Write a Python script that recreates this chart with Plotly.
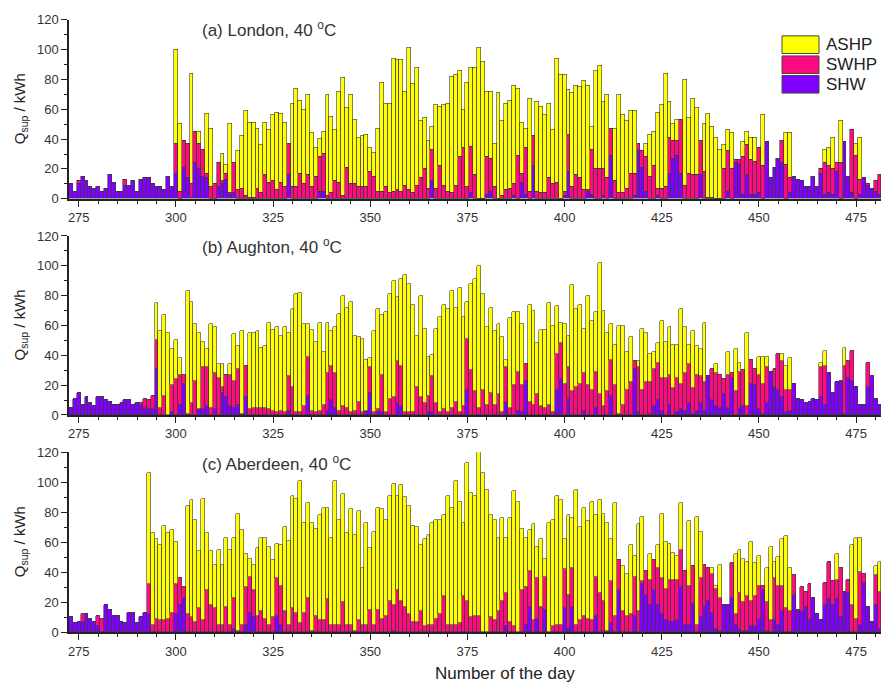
import plotly.graph_objects as go

days = list(range(273, 482))

# ---------------- (a) London ----------------
london_shw = [
    10, 5, 10, 15, 12, 8, 7, 8, 5, 7,
    16, 11, 5, 5, 9, 9, 12, 5, 12, 14,
    14, 10, 8, 8, 6, 15, 8, 17, 0, 21,
    14, 1, 24, 20, 15, 14, 0, 0, 8, 10,
    13, 3, 4, 0, 0, 0, 0, 0, 0, 0,
    0, 0, 0, 0, 0, 0, 16, 0, 0, 0,
    0, 0, 0, 0, 5, 5, 0, 0, 0, 0,
    0, 0, 0, 0, 0, 0, 0, 0, 0, 0,
    0, 0, 0, 0, 0, 0, 0, 0, 0, 0,
    0, 0, 0, 12, 0, 0, 0, 0, 0, 0,
    0, 0, 0, 4, 0, 0, 0, 3, 5, 0,
    0, 0, 0, 0, 2, 0, 11, 3, 0, 22,
    0, 0, 0, 0, 0, 0, 0, 2, 18, 0,
    0, 0, 0, 5, 3, 0, 0, 2, 0, 29,
    0, 0, 0, 0, 0, 2, 32, 21, 5, 0,
    0, 2, 0, 0, 17, 27, 29, 17, 0, 0,
    0, 0, 16, 0, 0, 0, 0, 0, 0, 5,
    0, 24, 23, 3, 16, 3, 3, 4, 0, 38,
    14, 21, 27, 24, 0, 4, 15, 13, 12, 8,
    8, 15, 8, 17, 3, 4, 3, 18, 0, 38,
    15, 4, 0, 3, 14, 9, 7, 5, 3,
]
london_swhp = [
    0, 0, 2, 0, 0, 0, 0, 0, 0, 0,
    0, 0, 0, 0, 4, 0, 0, 0, 1, 0,
    0, 0, 0, 0, 0, 0, 0, 20, 5, 18,
    23, 9, 21, 17, 18, 3, 8, 10, 16, 2,
    4, 1, 20, 6, 7, 2, 1, 1, 7, 4,
    16, 11, 12, 6, 11, 8, 21, 8, 8, 17,
    10, 16, 8, 15, 23, 25, 2, 4, 12, 11,
    2, 21, 10, 10, 8, 8, 8, 18, 15, 5,
    5, 8, 4, 5, 6, 5, 9, 6, 4, 9,
    14, 20, 7, 21, 7, 22, 9, 5, 4, 9,
    28, 34, 8, 31, 16, 0, 0, 25, 22, 8,
    0, 2, 6, 7, 8, 29, 6, 31, 5, 20,
    5, 4, 4, 14, 10, 11, 0, 3, 25, 8,
    16, 14, 6, 1, 30, 20, 20, 18, 14, 18,
    12, 4, 4, 7, 17, 15, 5, 11, 23, 15,
    22, 5, 7, 8, 24, 12, 10, 36, 9, 17,
    16, 16, 23, 18, 1, 1, 0, 0, 20, 27,
    20, 2, 3, 25, 20, 23, 22, 30, 22, 0,
    0, 0, 0, 15, 23, 10, 0, 0, 0, 0,
    0, 0, 0, 3, 21, 18, 17, 6, 24, 0,
    0, 42, 29, 10, 0, 1, 0, 7, 13,
]
london_ashp = [
    0, 0, 0, 0, 0, 0, 0, 0, 0, 0,
    0, 0, 0, 0, 0, 0, 0, 0, 0, 0,
    0, 0, 0, 0, 0, 0, 0, 63, 45, 0,
    0, 74, 0, 8, 0, 40, 39, 0, 0, 18,
    6, 46, 0, 26, 35, 57, 50, 50, 40, 32,
    35, 35, 44, 52, 46, 43, 0, 56, 66, 49,
    50, 54, 36, 19, 12, 15, 68, 51, 34, 61,
    79, 40, 60, 43, 33, 34, 35, 16, 16, 42,
    73, 56, 60, 89, 87, 88, 63, 95, 73, 79,
    38, 34, 32, 15, 56, 40, 54, 59, 78, 74,
    58, 26, 70, 53, 72, 101, 92, 44, 45, 29,
    71, 50, 58, 59, 66, 45, 34, 13, 62, 0,
    60, 58, 52, 50, 36, 83, 83, 78, 30, 63,
    60, 61, 73, 70, 15, 66, 69, 45, 56, 0,
    35, 66, 52, 45, 42, 42, 0, 0, 9, 28,
    23, 51, 56, 76, 24, 11, 14, 0, 71, 37,
    51, 45, 0, 32, 56, 47, 41, 33, 16, 14,
    24, 0, 0, 10, 9, 15, 16, 0, 34, 0,
    0, 0, 0, 0, 21, 30, 0, 0, 0, 0,
    0, 0, 0, 0, 9, 12, 21, 0, 28, 0,
    0, 0, 8, 28, 0, 0, 0, 0, 0,
]

# ---------------- (b) Aughton ----------------
aughton_shw = [
    5, 11, 15, 7, 12, 8, 6, 12, 12, 10,
    9, 7, 7, 8, 10, 10, 7, 8, 7, 5,
    4, 4, 31, 0, 0, 0, 2, 0, 7, 21,
    0, 0, 0, 4, 4, 6, 0, 4, 0, 15,
    12, 6, 5, 7, 0, 12, 0, 0, 0, 0,
    0, 0, 0, 0, 0, 0, 3, 0, 0, 0,
    0, 13, 0, 0, 0, 0, 3, 10, 5, 0,
    0, 0, 0, 0, 0, 0, 3, 15, 0, 2,
    2, 0, 0, 0, 8, 6, 0, 0, 0, 0,
    0, 0, 2, 2, 0, 0, 0, 0, 0, 0,
    0, 0, 17, 0, 0, 0, 0, 0, 0, 0,
    0, 0, 9, 0, 0, 3, 2, 23, 0, 0,
    0, 0, 0, 0, 0, 17, 24, 0, 11, 0,
    0, 0, 3, 0, 0, 5, 0, 0, 0, 13,
    0, 0, 0, 0, 0, 31, 2, 0, 0, 1,
    6, 10, 3, 0, 7, 0, 2, 4, 3, 8,
    1, 3, 8, 3, 26, 10, 6, 5, 14, 5,
    25, 0, 5, 6, 0, 21, 20, 4, 1, 8,
    29, 19, 17, 12, 2, 3, 21, 11, 10, 8,
    9, 11, 10, 12, 7, 28, 15, 22, 22, 1,
    25, 23, 19, 7, 7, 19, 26, 11, 7,
]
aughton_swhp = [
    0, 0, 0, 0, 0, 0, 0, 0, 0, 0,
    0, 0, 0, 0, 0, 0, 0, 0, 1, 6,
    6, 9, 19, 5, 13, 0, 18, 24, 20, 6,
    1, 8, 23, 0, 28, 26, 5, 24, 25, 4,
    15, 21, 18, 24, 1, 21, 4, 5, 5, 5,
    5, 4, 3, 2, 3, 2, 23, 19, 2, 2,
    6, 26, 3, 2, 3, 7, 25, 23, 23, 3,
    6, 5, 2, 3, 9, 2, 0, 17, 2, 2,
    25, 2, 11, 12, 28, 27, 2, 2, 2, 19,
    12, 8, 11, 24, 8, 2, 4, 2, 5, 9,
    2, 6, 34, 30, 16, 5, 17, 7, 15, 7,
    14, 2, 23, 5, 20, 26, 18, 11, 9, 7,
    14, 6, 5, 7, 2, 24, 24, 21, 21, 16,
    19, 21, 25, 20, 17, 24, 14, 6, 16, 24,
    20, 1, 7, 17, 22, 5, 30, 17, 22, 21,
    25, 25, 22, 25, 20, 18, 23, 17, 25, 26,
    17, 24, 18, 19, 0, 21, 22, 22, 10, 22,
    3, 16, 24, 24, 6, 16, 11, 23, 20, 24,
    0, 12, 24, 24, 15, 14, 0, 0, 0, 0,
    0, 0, 0, 20, 26, 0, 0, 0, 1, 32,
    11, 20, 0, 0, 0, 16, 0, 0, 0,
]
aughton_ashp = [
    0, 0, 0, 0, 0, 0, 0, 0, 0, 0,
    0, 0, 0, 0, 0, 0, 0, 0, 0, 0,
    0, 0, 25, 51, 54, 55, 24, 26, 11, 0,
    82, 68, 38, 51, 17, 12, 56, 31, 9, 15,
    0, 7, 31, 15, 55, 0, 51, 50, 51, 40,
    41, 58, 54, 57, 50, 57, 29, 52, 79, 80,
    55, 22, 54, 47, 59, 35, 34, 23, 31, 65,
    74, 67, 74, 50, 43, 49, 34, 6, 54, 67,
    40, 67, 70, 78, 43, 58, 92, 86, 72, 34,
    68, 50, 26, 14, 50, 64, 70, 69, 78, 63,
    83, 60, 25, 58, 75, 95, 64, 52, 57, 49,
    47, 50, 5, 60, 49, 40, 41, 0, 65, 63,
    34, 51, 52, 68, 58, 32, 14, 40, 21, 71,
    52, 53, 30, 60, 46, 40, 88, 64, 39, 24,
    27, 59, 53, 25, 30, 0, 4, 41, 33, 19,
    11, 13, 38, 24, 32, 29, 22, 50, 31, 13,
    38, 19, 18, 40, 0, 0, 6, 0, 0, 15,
    0, 28, 6, 0, 49, 0, 0, 12, 18, 7,
    0, 0, 0, 5, 16, 21, 0, 0, 0, 0,
    0, 0, 0, 3, 10, 0, 0, 0, 0, 12,
    0, 0, 0, 0, 0, 0, 0, 0, 0,
]

# ---------------- (c) Aberdeen ----------------
aberdeen_shw = [
    10, 6, 7, 7, 12, 9, 7, 4, 0, 18,
    15, 11, 11, 7, 6, 13, 13, 6, 10, 13,
    12, 0, 0, 0, 0, 0, 0, 12, 18, 23,
    0, 0, 0, 0, 0, 0, 0, 0, 0, 0,
    0, 0, 2, 0, 0, 5, 13, 10, 0, 0,
    0, 0, 0, 11, 5, 0, 0, 0, 0, 0,
    0, 0, 0, 0, 0, 0, 0, 0, 0, 0,
    0, 0, 0, 0, 0, 0, 0, 0, 0, 0,
    0, 0, 0, 1, 0, 0, 0, 0, 0, 0,
    0, 0, 0, 0, 0, 0, 0, 0, 0, 0,
    0, 0, 0, 0, 0, 0, 0, 0, 0, 0,
    0, 0, 4, 0, 0, 0, 0, 5, 17, 0,
    9, 0, 15, 0, 0, 0, 0, 16, 3, 17,
    0, 0, 0, 0, 0, 11, 0, 0, 0, 6,
    0, 28, 0, 0, 0, 11, 0, 32, 25, 18,
    28, 18, 12, 8, 7, 7, 8, 30, 5, 5,
    19, 0, 10, 17, 21, 13, 2, 1, 18, 18,
    23, 5, 2, 1, 1, 4, 4, 8, 28, 1,
    0, 8, 5, 14, 0, 0, 25, 14, 14, 17,
    8, 23, 12, 8, 18, 22, 18, 22, 10, 27,
    26, 0, 0, 5, 33, 17, 7, 18, 2,
]
aberdeen_swhp = [
    0, 0, 0, 5, 0, 0, 0, 7, 9, 0,
    0, 0, 0, 0, 0, 0, 0, 0, 0, 0,
    20, 5, 9, 8, 8, 9, 13, 20, 18, 7,
    12, 10, 7, 16, 8, 28, 18, 16, 5, 5,
    17, 5, 21, 1, 5, 25, 24, 18, 11, 14,
    9, 5, 10, 25, 26, 14, 5, 16, 13, 6,
    13, 23, 1, 11, 8, 8, 22, 5, 5, 5,
    20, 5, 5, 1, 8, 5, 5, 15, 5, 15,
    9, 11, 21, 17, 28, 21, 17, 12, 7, 7,
    14, 4, 5, 5, 9, 12, 24, 5, 5, 5,
    6, 24, 21, 10, 11, 11, 0, 0, 10, 8,
    14, 21, 22, 7, 4, 0, 28, 25, 24, 8,
    27, 17, 22, 0, 4, 5, 5, 26, 22, 26,
    5, 8, 11, 9, 8, 26, 26, 21, 1, 28,
    11, 20, 14, 11, 12, 26, 14, 2, 16, 17,
    20, 25, 24, 21, 28, 28, 27, 25, 36, 26,
    25, 5, 26, 28, 22, 26, 27, 22, 0, 0,
    23, 7, 24, 19, 23, 17, 20, 23, 3, 19,
    8, 28, 26, 17, 16, 14, 13, 1, 16, 10,
    24, 0, 0, 0, 15, 25, 16, 13, 33, 0,
    9, 18, 9, 35, 6, 0, 0, 20, 25,
]
aberdeen_ashp = [
    0, 0, 0, 0, 0, 0, 0, 0, 0, 0,
    0, 0, 0, 0, 0, 0, 0, 0, 0, 0,
    74, 61, 53, 50, 63, 57, 55, 28, 0, 0,
    72, 78, 68, 38, 81, 38, 36, 29, 50, 40,
    46, 50, 40, 78, 63, 22, 12, 17, 45, 49,
    54, 52, 38, 23, 27, 56, 56, 75, 76, 95,
    60, 63, 72, 58, 70, 75, 61, 58, 96, 70,
    72, 61, 77, 64, 73, 38, 68, 41, 62, 68,
    73, 64, 70, 81, 63, 77, 73, 72, 64, 63,
    44, 58, 60, 68, 66, 63, 54, 86, 78, 96,
    81, 49, 92, 83, 80, 109, 106, 95, 68, 67,
    49, 55, 37, 69, 90, 87, 41, 33, 27, 64,
    21, 45, 12, 73, 71, 86, 83, 20, 53, 33,
    90, 62, 72, 65, 79, 41, 62, 58, 72, 28,
    75, 0, 30, 28, 46, 14, 58, 43, 0, 17,
    0, 15, 43, 31, 24, 18, 16, 31, 0, 43,
    0, 72, 31, 0, 0, 4, 2, 22, 0, 0,
    0, 40, 29, 29, 23, 39, 22, 20, 0, 23,
    49, 11, 19, 31, 48, 29, 0, 0, 0, 0,
    0, 0, 0, 0, 0, 0, 0, 17, 0, 0,
    0, 40, 54, 23, 0, 0, 0, 6, 20,
]

panel_titles = ["(a) London, 40 <sup>o</sup>C",
                "(b) Aughton, 40 <sup>o</sup>C",
                "(c) Aberdeen, 40 <sup>o</sup>C"]
series_names = ["SHW", "SWHP", "ASHP"]
legend_order = ["ASHP", "SWHP", "SHW"]
y_ticks = [0, 20, 40, 60, 80, 100, 120]
x_ticks = [275, 300, 325, 350, 375, 400, 425, 450, 475]

panels = [
    (london_shw, london_swhp, london_ashp),
    (aughton_shw, aughton_swhp, aughton_ashp),
    (aberdeen_shw, aberdeen_swhp, aberdeen_ashp),
]
for p in panels:
    for s in p:
        if len(s) != len(days):
            raise ValueError(f"length mismatch {len(s)} vs {len(days)}")

colors = {"SHW": "#8000FF", "SWHP": "#FF0A80", "ASHP": "#FFFF00"}
FONT = "Arial, Liberation Sans, sans-serif"

W, H = 881, 695
L = 69
PW = W - L

def px_x(px):
    return (px - L) / PW

def px_y(py):
    return (H - py) / H

fig = go.Figure()
for i, series in enumerate(panels):
    sfx = "" if i == 0 else str(i + 1)
    for name, vals in zip(series_names, series):
        fig.add_trace(go.Bar(
            x=days, y=vals, name=name,
            xaxis="x" + sfx, yaxis="y" + sfx,
            width=1,
            marker=dict(color=colors[name], line=dict(color="#3a3a3a", width=0.6)),
            showlegend=False,
        ))

# panel pixel extents (top = 120, bottom = 0)
panel_px = [(13, 196), (234, 417), (455, 639)]

layout = dict(
    width=W, height=H,
    margin=dict(l=L, r=0, t=0, b=0),
    barmode="stack", bargap=0,
    paper_bgcolor="white", plot_bgcolor="white",
    font=dict(family=FONT, color="#333333"),
    showlegend=False,
)
for i, (top, bot) in enumerate(panel_px):
    sfx = "" if i == 0 else str(i + 1)
    layout["xaxis" + sfx] = dict(
        domain=[0, 1], range=[272.5, 481.4], anchor="y" + sfx,
        tickvals=x_ticks, ticks="outside", ticklen=6, tickwidth=1.2,
        tickcolor="#222222", showline=True, linecolor="#222222", linewidth=1.5,
        showgrid=False, zeroline=False,
        minor=dict(dtick=5, tick0=275, ticks="outside", ticklen=3,
                   tickcolor="#222222", tickwidth=1, showgrid=False),
        tickfont=dict(size=13, color="#333333", family=FONT),
    )
    layout["yaxis" + sfx] = dict(
        domain=[px_y(bot), px_y(top)], range=[0, 120], anchor="x" + sfx,
        tickvals=y_ticks, ticks="outside", ticklen=6, tickwidth=1.2,
        tickcolor="#222222", showline=True, linecolor="#222222", linewidth=1.5,
        showgrid=False, zeroline=False,
        minor=dict(dtick=10, ticks="outside", ticklen=3, tickcolor="#222222",
                   tickwidth=1, showgrid=False),
        tickfont=dict(size=13, color="#333333", family=FONT),
    )
fig.update_layout(**layout)

annotations = []
title_y = [22, 244, 466]
for t, ty in zip(panel_titles, title_y):
    annotations.append(dict(text=t, xref="paper", yref="paper", x=px_x(200), y=px_y(ty),
                            xanchor="left", yanchor="middle", showarrow=False,
                            font=dict(size=17, color="#333333", family=FONT)))
for top, bot in panel_px:
    annotations.append(dict(text="Q<sub>sup</sub> / kWh", xref="paper", yref="paper",
                            x=px_x(20), y=px_y((top + bot) / 2), textangle=-90,
                            xanchor="center", yanchor="middle", showarrow=False,
                            font=dict(size=15, color="#222222", family=FONT)))
annotations.append(dict(text="Number of the day", xref="paper", yref="paper",
                        x=px_x(505), y=px_y(681), xanchor="center", yanchor="middle",
                        showarrow=False, font=dict(size=17, color="#222222", family=FONT)))

# legend swatches
shapes = []
leg_rows = [(29.5, 47.5), (50, 68), (70, 88)]
for name, (t, b) in zip(legend_order, leg_rows):
    shapes.append(dict(type="rect", xref="paper", yref="paper",
                       x0=px_x(782), x1=px_x(819), y0=px_y(b), y1=px_y(t),
                       fillcolor=colors[name], line=dict(color="#444444", width=1)))
    annotations.append(dict(text=name, xref="paper", yref="paper",
                            x=px_x(824), y=px_y((t + b) / 2), xanchor="left", yanchor="middle",
                            showarrow=False, font=dict(size=17, color="#222222", family=FONT)))
fig.update_layout(annotations=annotations, shapes=shapes)

fig.write_html("out.html")
